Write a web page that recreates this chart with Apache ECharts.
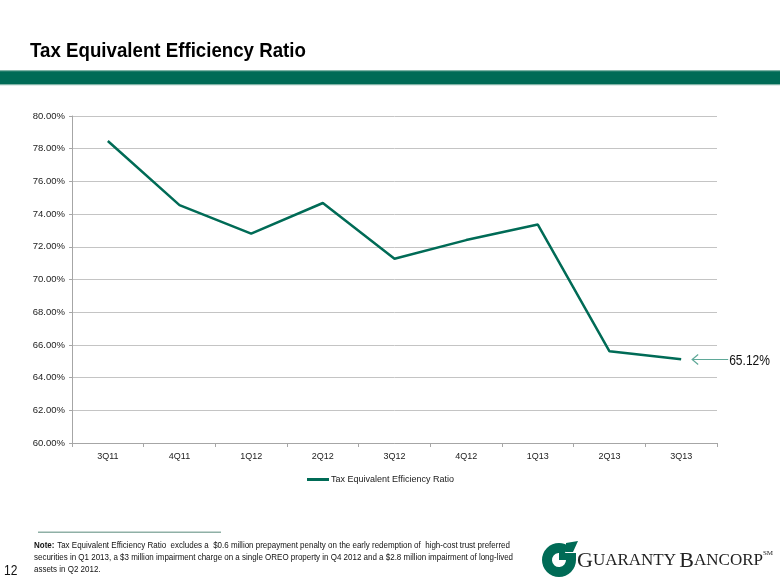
<!DOCTYPE html>
<html>
<head>
<meta charset="utf-8">
<script src="https://cdn.jsdelivr.net/npm/echarts@6/dist/echarts.min.js"></script>
<style>
html,body{margin:0;padding:0;background:#fff;}
#c{width:780px;height:585px;}
</style>
</head>
<body>
<div id="c"></div>
<script>
var categories = ['3Q11','4Q11','1Q12','2Q12','3Q12','4Q12','1Q13','2Q13','3Q13'];
var ratioValues = [78.47, 74.55, 72.81, 74.68, 71.27, 72.41, 73.36, 65.61, 65.12];
var yTicks = {min: 60, max: 80, interval: 2};
var seriesName = 'Tax Equivalent Efficiency Ratio';
var titleText = 'Tax Equivalent Efficiency Ratio';
var noteLines = [
  'Tax Equivalent Efficiency Ratio  excludes a  $0.6 million prepayment penalty on the early redemption of  high-cost trust preferred',
  'securities in Q1 2013, a $3 million impairment charge on a single OREO property in Q4 2012 and a $2.8 million impairment of long-lived',
  'assets in Q2 2012.'
];
var pageNumber = '12';
var lastLabel = '65.12%';

var SANS = '"Liberation Sans", Arial, sans-serif';
var SERIF = '"Liberation Serif", "Times New Roman", serif';
var GREEN = '#006b56';

var chart = echarts.init(document.getElementById('c'), null, {renderer: 'canvas'});
var option = {
  animation: false,
  backgroundColor: '#ffffff',
  grid: {left: 72, right: 63, top: 116, bottom: 142, containLabel: false},
  legend: {
    data: [seriesName],
    bottom: 96,
    left: 302,
    itemWidth: 22,
    itemHeight: 3,
    itemGap: 4,
    icon: 'rect',
    textStyle: {fontFamily: SANS, fontSize: 9, color: '#1a1a1a', padding: [0,0,0,-3]}
  },
  xAxis: {
    type: 'category',
    data: categories,
    boundaryGap: true,
    axisLine: {lineStyle: {color: '#a6a6a6', width: 1}},
    axisTick: {show: true, length: 4, lineStyle: {color: '#a6a6a6'}},
    axisLabel: {fontFamily: SANS, fontSize: 9, color: '#222', margin: 9},
    splitLine: {show: false}
  },
  yAxis: {
    type: 'value',
    min: yTicks.min, max: yTicks.max, interval: yTicks.interval,
    axisLine: {show: true, lineStyle: {color: '#a6a6a6', width: 1}},
    axisTick: {show: true, length: 3, lineStyle: {color: '#a6a6a6'}},
    axisLabel: {fontFamily: SANS, fontSize: 9.5, color: '#222', margin: 7,
      formatter: function(v){ return v.toFixed(2) + '%'; }},
    splitLine: {show: true, lineStyle: {color: '#c4c4c4', width: 1}}
  },
  series: [{
    name: seriesName,
    type: 'line',
    data: ratioValues,
    symbol: 'none',
    lineStyle: {color: GREEN, width: 2.5},
    itemStyle: {color: GREEN}
  }]
};
chart.setOption(option);

var lastPt = chart.convertToPixel({gridIndex: 0}, [categories.length - 1, ratioValues[ratioValues.length - 1]]);
var ay = Math.round(lastPt[1]) + 0.5;

chart.setOption({
  graphic: [
    {type: 'text', x: 30, y: 51, scaleX: 0.89, style: {text: titleText, font: 'bold 21px ' + SANS, fill: '#000', textVerticalAlign: 'middle'}},
    {type: 'rect', shape: {x: 0, y: 71, width: 780, height: 13}, style: {fill: GREEN}},
    {type: 'rect', shape: {x: 0, y: 70, width: 780, height: 1.2}, style: {fill: '#7fb3a6'}},
    {type: 'rect', shape: {x: 0, y: 84, width: 780, height: 1.2}, style: {fill: '#7fb3a6'}},
    // annotation arrow
    {type: 'line', shape: {x1: lastPt[0] + 11, y1: ay, x2: lastPt[0] + 47, y2: ay}, style: {stroke: '#5fa898', lineWidth: 1.2}},
    {type: 'polyline', shape: {points: [[lastPt[0] + 17, ay - 5], [lastPt[0] + 11, ay], [lastPt[0] + 17, ay + 5]]}, style: {stroke: '#5fa898', lineWidth: 1.2, fill: null}},
    {type: 'text', x: lastPt[0] + 48, y: ay + 2, scaleX: 0.86, style: {text: lastLabel, font: '14px ' + SANS, fill: '#111', textVerticalAlign: 'middle'}},
    // footer
    {type: 'rect', shape: {x: 38, y: 531.5, width: 183, height: 1.5}, style: {fill: '#8fb0a6'}},
    {type: 'text', x: 34, y: 545, scaleX: 0.84, style: {rich: {b: {fontFamily: SANS, fontSize: 9.5, fontWeight: 'bold', fill: '#111'}, n: {fontFamily: SANS, fontSize: 9.5, fill: '#111'}}, text: '{b|Note:} {n|' + noteLines[0] + '}', textVerticalAlign: 'middle'}},
    {type: 'text', x: 34, y: 557.5, scaleX: 0.84, style: {text: noteLines[1], font: '9.5px ' + SANS, fill: '#111', textVerticalAlign: 'middle'}},
    {type: 'text', x: 34, y: 569, scaleX: 0.84, style: {text: noteLines[2], font: '9.5px ' + SANS, fill: '#111', textVerticalAlign: 'middle'}},
    {type: 'text', x: 4, y: 571, scaleX: 0.86, style: {text: pageNumber, font: '14px ' + SANS, fill: '#111', textVerticalAlign: 'middle'}},
    // logo mark
    {type: 'sector', shape: {cx: 559, cy: 560, r: 17, r0: 7, startAngle: 0, endAngle: Math.PI * 1.72, clockwise: true}, style: {fill: GREEN}},
    {type: 'polygon', shape: {points: [[559, 553], [576, 553], [576, 560], [559, 560]]}, style: {fill: GREEN}},
    {type: 'polygon', shape: {points: [[566, 543], [578, 541], [573, 552], [566, 552]]}, style: {fill: GREEN}},
    {type: 'text', x: 577, y: 561, style: {
      rich: {
        L: {fontFamily: SERIF, fontSize: 22, fill: '#222'},
        s: {fontFamily: SERIF, fontSize: 17, fill: '#222'},
        m: {fontFamily: SERIF, fontSize: 7, fill: '#222', verticalAlign: 'top'}
      },
      text: '{L|G}{s|UARANTY} {L|B}{s|ANCORP}{m|SM}', textVerticalAlign: 'middle'}}
  ]
});
</script>
</body>
</html>
